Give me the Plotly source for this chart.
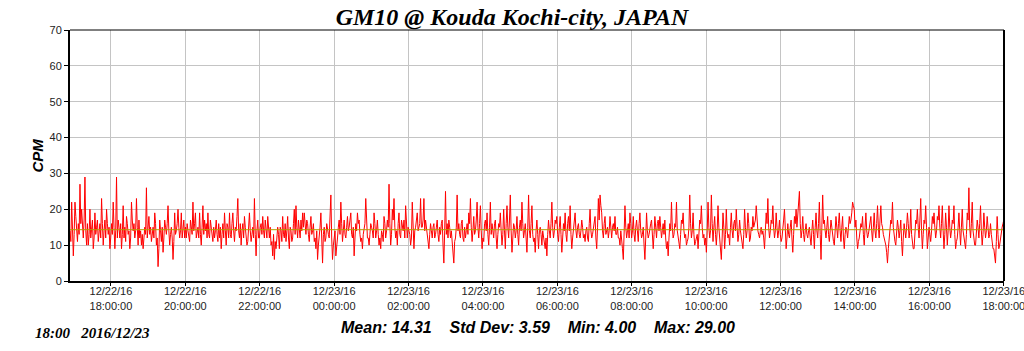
import pandas as pd
import plotly.graph_objects as go

# ---- data (CPM, left to right) ----
# each segment: main readings plus the readings lying between them
START = "2016-12-22 16:54"
END = "2016-12-23 18:00"

cpm_1654_1830 = [14,22,7,22,14,16,27,20,12,29, 10,10,20,14,9,19,15,11,16,23,
                 10,17,20,13,9,16,22,9,29,17, 12,9,21,15,18,13,9,22,14,12,
                 23,10,12,10,9,15,26,16,13,11, 15,19,10,4,17,11,8,17,13,21,
                 10,15,6,19,14,20,12,19,15,12]
mid_1654_1830 = [11,15,13,18,11,13,16,15,17,14, 16,13,12,17,12,13,17,14,12,16,
                 14,12,16,15,12,13,15,14,12,15, 16,13,12,11,16,14,12,17,16,14,
                 15,17,14,13,12,13,12,18,15,13, 12,16,12,9,14,15,12,15,16,14,
                 13,12,11,13,16,15,14,12,17,15]
cpm_1830_2200 = [12,14,11,15,22,16,12,15,19,10, 21,17,16,19,12,15,11,12,17,11,
                 12,9,16,19,10,15,19,12,19,11, 14,23,12,10,16,18,13,11,19,11,
                 15,23,7,17,12,16,18,12,15,18, 12,10,7,6,9,15,9,14,18,12,
                 11,18,9,14,12,20,21,12,15,17, 19]
mid_1830_2200 = [16,12,17,13,14,19,14,12,13,15, 13,14,12,13,17,12,15,14,13,16,
                 15,13,12,14,16,12,13,16,14,15, 18,14,16,14,12,15,10,15,14,13,
                 12,13,14,12,15,13,14,17,12,14, 15,11,13,11,12,13,15,11,13,16,
                 14,12,15,11,16,13,15,17,12,14, 15]
cpm_2200_0100 = [19,13,16,11,18,14,11,9,6,12, 19,5,15,12,14,12,24,6,12,7,
                 12,17,22,11,17,12,18,15,19,12, 7,16,19,17,11,9,15,23,12,10,
                 16,14,19,12,17,10,9,13,18,12, 17,27,10,20,23,12,10,19,12,15,
                 17,21,12,14,10,22,9,15,19,15, 23]
mid_2200_0100 = [15,17,13,15,13,16,12,14,10,15, 11,13,11,16,13,17,12,10,14,11,
                 15,13,16,14,13,15,14,17,13,15, 12,14,16,13,12,13,16,14,12,13,
                 15,12,16,14,13,12,14,11,16,14, 15,16,13,17,15,14,16,13,17,14,
                 12,16,15,13,12,16,14,17,14,16, 15]
cpm_0100_0400 = [15,23,17,12,9,16,12,16,13,17, 11,13,17,5,25,16,17,12,11,5,
                 12,24,16,12,17,11,12,16,19,23, 11,18,14,22,12,21,9,11,17,19,
                 10,22,16,12,17,9,16,19,10,20, 9,21,12,24,8,16,12,18,10,17,
                 22,12,16,8,24,12,21,11,8,17, 9]
mid_0100_0400 = [17,14,15,11,13,14,15,12,15,13, 15,16,10,14,13,12,15,14,9,11,
                 15,14,13,16,12,15,14,13,16,15, 14,13,17,15,16,14,12,16,14,13,
                 15,13,14,16,12,13,15,14,13,14, 16,15,17,14,12,15,14,13,15,14,
                 16,14,12,15,14,16,13,12,14,13, 14]
cpm_0400_0700 = [15,10,12,9,7,17,12,22,12,17, 18,11,18,8,16,19,11,18,21,9,
                 15,19,12,16,12,17,12,11,15,11, 20,12,15,18,9,23,24,19,12,18,
                 14,12,18,12,16,18,13,12,10,10, 6,21,12,16,19,12,18,11,17,11,
                 19,12,15,6,19,12,15,17,9,18, 12]
mid_0400_0700 = [13,14,11,12,13,14,16,15,14,16, 13,15,13,12,14,13,16,14,13,12,
                 16,14,15,13,14,15,13,14,12,16, 14,13,16,12,15,17,21,14,16,13,
                 15,14,13,15,14,13,15,12,14,9, 13,15,14,12,16,14,13,15,14,16,
                 14,13,10,12,14,13,16,14,13,15, 16]
cpm_0700_1000 = [17,18,12,16,17,9,7,16,22,12, 16,22,12,9,17,19,12,10,12,24,
                 12,19,10,12,9,17,21,12,10,8, 22,12,24,11,18,10,21,12,6,19,
                 9,20,12,10,19,12,17,20,11,17, 12,9,20,12,19,11,15,18,16,21,
                 14,12,15,14,9,19,23,12,17,21, 12]
mid_0700_1000 = [14,15,14,13,12,11,12,14,15,13, 15,14,11,13,16,14,13,11,15,16,
                 14,13,11,13,14,16,15,13,12,14, 15,14,16,15,13,14,15,11,12,15,
                 13,14,13,15,14,16,14,15,13,14, 11,13,15,14,16,12,14,15,17,15,
                 13,14,13,12,14,16,15,14,16,15, 14]
cpm_1000_1300 = [19,12,17,11,14,20,9,16,12,17, 8,18,20,19,25,12,18,11,16,12,
                 15,10,17,9,19,12,22,6,24,17, 12,18,11,17,12,10,18,12,19,11,
                 18,9,15,12,18,17,22,20,17,9, 12,16,18,10,19,12,15,18,11,19,
                 12,21,12,21,15,12,10,5,12,17, 22]
mid_1000_1300 = [15,14,13,12,17,14,12,13,15,12, 13,16,15,21,16,14,13,14,13,14,
                 12,14,13,15,14,16,13,15,16,14, 15,13,14,15,11,14,15,16,14,15,
                 12,13,14,15,16,19,21,15,12,11, 14,15,13,15,14,13,16,14,15,14,
                 16,15,17,16,13,11,8,9,15,16, 15]
cpm_1300_1800 = [12,10,17,12,17,7,16,12,19,12, 20,10,9,17,20,12,23,9,17,21,
                 9,15,11,18,19,12,18,21,12,21, 9,19,10,21,12,17,21,9,12,19,
                 10,20,12,9,19,26,12,22,11,10, 17,12,21,10,19,12,18,12,16,10,
                 9,5,18,9,12,15,17]
mid_1300_1800 = [11,14,15,14,11,12,14,15,16,14, 13,9,14,16,15,17,14,13,16,15,
                 12,13,14,16,15,14,17,15,16,14, 13,15,14,15,14,16,13,11,15,14,
                 15,14,11,13,17,15,16,14,10,13, 15,16,14,13,15,14,15,13,13,9,
                 7,11,13,10,13,16]

MEAN = 14.31
STD = 3.59
MIN = 4.00
MAX = 29.00

tick_times = ["2016-12-22 18:00", "2016-12-22 20:00", "2016-12-22 22:00",
              "2016-12-23 00:00", "2016-12-23 02:00", "2016-12-23 04:00",
              "2016-12-23 06:00", "2016-12-23 08:00", "2016-12-23 10:00",
              "2016-12-23 12:00", "2016-12-23 14:00", "2016-12-23 16:00",
              "2016-12-23 18:00"]
tick_labels = ["12/22/16<br>18:00:00", "12/22/16<br>20:00:00", "12/22/16<br>22:00:00",
               "12/23/16<br>00:00:00", "12/23/16<br>02:00:00", "12/23/16<br>04:00:00",
               "12/23/16<br>06:00:00", "12/23/16<br>08:00:00", "12/23/16<br>10:00:00",
               "12/23/16<br>12:00:00", "12/23/16<br>14:00:00", "12/23/16<br>16:00:00",
               "12/23/16<br>18:00:00"]
y_ticks = [0, 10, 20, 30, 40, 50, 60, 70]

segments = [(cpm_1654_1830, mid_1654_1830), (cpm_1830_2200, mid_1830_2200),
            (cpm_2200_0100, mid_2200_0100), (cpm_0100_0400, mid_0100_0400),
            (cpm_0400_0700, mid_0400_0700), (cpm_0700_1000, mid_0700_1000),
            (cpm_1000_1300, mid_1000_1300), (cpm_1300_1800, mid_1300_1800)]
cpm = []
for main, mid in segments:
    for i, v in enumerate(main):
        cpm.append(v)
        if i < len(mid):
            cpm.append(mid[i])
times = pd.date_range(START, END, periods=len(cpm))
range_end = pd.Timestamp(END) + pd.Timedelta(seconds=20)

fig = go.Figure()
fig.add_trace(go.Scatter(x=times, y=cpm, mode="lines",
                         line=dict(color="#FF0000", width=1), hoverinfo="skip"))

fig.add_shape(type="line", xref="paper", x0=0, x1=1, yref="y", y0=MEAN, y1=MEAN,
              line=dict(color="#B89A00", width=1), layer="above")
# top and right frame
fig.add_shape(type="line", xref="paper", yref="paper", x0=0, x1=1, y0=1, y1=1,
              line=dict(color="black", width=1))
fig.add_shape(type="line", xref="paper", yref="paper", x0=1, x1=1, y0=0, y1=1,
              line=dict(color="black", width=2))

SERIF = "Liberation Serif, Times New Roman, serif"
SANS = "Liberation Sans, Arial, sans-serif"

fig.update_layout(
    width=1024, height=351,
    margin=dict(l=70, r=20, t=30, b=70, autoexpand=False),
    paper_bgcolor="white", plot_bgcolor="white",
    showlegend=False,
    title=dict(text="GM10 @ Kouda Kochi-city, JAPAN", x=0.5, xref="container",
               xanchor="center", y=1 - 17 / 351, yanchor="middle",
               font=dict(family=SERIF, size=24, color="black", weight="bold", style="italic")),
    xaxis=dict(type="date", range=[pd.Timestamp(START), range_end], automargin=False,
               tickvals=tick_times, ticktext=tick_labels, ticklabeloverflow="allow",
               showgrid=True, gridcolor="#C4C4C4", gridwidth=1,
               showline=True, linecolor="black", linewidth=2,
               ticks="outside", ticklen=3, tickcolor="black", ticklabelstandoff=-4,
               tickfont=dict(family=SANS, size=11, color="#222222"), zeroline=False),
    yaxis=dict(range=[0, 70], tickvals=y_ticks, showgrid=True, gridcolor="#C4C4C4",
               gridwidth=1, showline=True, linecolor="black", linewidth=2, automargin=False,
               ticks="outside", ticklen=4, tickcolor="black",
               tickfont=dict(family=SANS, size=11, color="#222222"), zeroline=False),
)

fig.add_annotation(text="CPM", xref="paper", yref="paper", x=-33 / 934, y=0.5,
                   textangle=-90, showarrow=False, xanchor="center", yanchor="middle",
                   font=dict(family=SANS, size=15, color="black", weight="bold", style="italic"))
fig.add_annotation(
    text=f"Mean: {MEAN:.2f}\u00a0\u00a0\u00a0\u00a0Std Dev: {STD:.2f}\u00a0\u00a0\u00a0\u00a0"
         f"Min: {MIN:.2f}\u00a0\u00a0\u00a0\u00a0Max: {MAX:.2f}",
    xref="paper", yref="paper", x=(538 - 70) / 934, y=-(327 - 281) / 251,
    showarrow=False, xanchor="center", yanchor="middle",
    font=dict(family=SANS, size=16, color="black", weight="bold", style="italic"))
fig.add_annotation(text="18:00\u00a0\u00a0\u00a02016/12/23", xref="paper", yref="paper",
                   x=(33 - 70) / 934, y=-(333 - 281) / 251, showarrow=False,
                   xanchor="left", yanchor="middle",
                   font=dict(family=SERIF, size=15, color="black", weight="bold", style="italic"))

fig.write_html("out.html")
